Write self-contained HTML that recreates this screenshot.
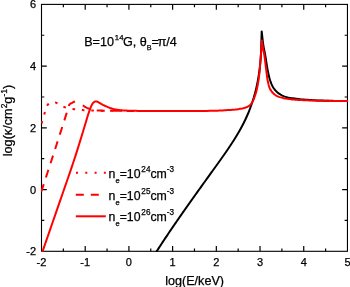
<!DOCTYPE html>
<html><head><meta charset="utf-8"><style>
html,body{margin:0;padding:0;background:#fff;}
svg{display:block;}
text{font-family:"Liberation Sans",Arial,sans-serif;fill:#000;stroke:#000;stroke-width:0.25px;}
</style></head><body>
<svg width="350" height="287" viewBox="0 0 350 287">
<rect width="350" height="287" fill="#fff"/>
<defs><clipPath id="c"><rect x="40.9" y="3.8000000000000003" width="307.15" height="248.1"/></clipPath></defs>
<path d="M63.35,251.30 V248.50 M63.35,4.40 V7.20 M85.21,251.30 V246.00 M85.21,4.40 V9.70 M107.06,251.30 V248.50 M107.06,4.40 V7.20 M128.91,251.30 V246.00 M128.91,4.40 V9.70 M150.77,251.30 V248.50 M150.77,4.40 V7.20 M172.62,251.30 V246.00 M172.62,4.40 V9.70 M194.47,251.30 V248.50 M194.47,4.40 V7.20 M216.33,251.30 V246.00 M216.33,4.40 V9.70 M238.18,251.30 V248.50 M238.18,4.40 V7.20 M260.04,251.30 V246.00 M260.04,4.40 V9.70 M281.89,251.30 V248.50 M281.89,4.40 V7.20 M303.74,251.30 V246.00 M303.74,4.40 V9.70 M325.60,251.30 V248.50 M325.60,4.40 V7.20 M41.50,220.44 H44.30 M347.45,220.44 H344.65 M41.50,189.58 H46.80 M347.45,189.58 H342.15 M41.50,158.71 H44.30 M347.45,158.71 H344.65 M41.50,127.85 H46.80 M347.45,127.85 H342.15 M41.50,96.99 H44.30 M347.45,96.99 H344.65 M41.50,66.12 H46.80 M347.45,66.12 H342.15 M41.50,35.26 H44.30 M347.45,35.26 H344.65" stroke="#000" stroke-width="1.2" fill="none"/>
<rect x="41.5" y="4.4" width="305.95" height="246.90" fill="none" stroke="#000" stroke-width="1.1"/>
<g clip-path="url(#c)" fill="none" stroke-linejoin="round">
<path d="M155.61,253.00 L156.66,251.38 L157.71,249.77 L158.75,248.16 L159.79,246.55 L160.84,244.94 L161.90,243.31 L162.98,241.67 L164.08,240.00 L165.29,238.17 L166.53,236.32 L167.79,234.45 L169.06,232.56 L170.34,230.66 L171.63,228.77 L172.91,226.88 L174.20,225.00 L175.49,223.12 L176.78,221.24 L178.08,219.37 L179.38,217.49 L180.68,215.62 L181.99,213.74 L183.30,211.87 L184.61,210.00 L185.93,208.12 L187.25,206.25 L188.58,204.37 L189.90,202.49 L191.23,200.62 L192.57,198.75 L193.90,196.87 L195.23,195.00 L196.59,193.10 L197.96,191.18 L199.35,189.24 L200.74,187.31 L202.11,185.40 L203.45,183.54 L204.74,181.73 L205.99,180.00 L206.96,178.65 L207.89,177.36 L208.79,176.10 L209.68,174.87 L210.55,173.66 L211.42,172.45 L212.30,171.24 L213.19,170.00 L214.09,168.75 L214.99,167.50 L215.89,166.25 L216.79,165.00 L217.69,163.75 L218.58,162.50 L219.48,161.25 L220.37,160.00 L221.25,158.75 L222.13,157.51 L223.01,156.26 L223.89,155.01 L224.77,153.76 L225.64,152.51 L226.50,151.25 L227.36,150.00 L228.20,148.76 L229.04,147.51 L229.88,146.26 L230.71,145.01 L231.54,143.76 L232.35,142.51 L233.16,141.26 L233.96,140.00 L234.74,138.76 L235.51,137.51 L236.28,136.27 L237.04,135.02 L237.78,133.77 L238.52,132.52 L239.25,131.26 L239.96,130.00 L240.65,128.76 L241.33,127.52 L241.99,126.27 L242.65,125.02 L243.30,123.77 L243.93,122.52 L244.55,121.26 L245.16,120.00 L245.74,118.76 L246.31,117.51 L246.87,116.27 L247.42,115.02 L247.96,113.77 L248.48,112.51 L248.99,111.26 L249.49,110.00 L249.97,108.76 L250.44,107.51 L250.90,106.26 L251.35,105.02 L251.78,103.76 L252.20,102.51 L252.62,101.26 L253.02,100.00 L253.41,98.76 L253.78,97.51 L254.15,96.26 L254.50,95.01 L254.85,93.76 L255.18,92.51 L255.51,91.25 L255.82,90.00 L256.12,88.75 L256.41,87.51 L256.70,86.26 L256.97,85.01 L257.23,83.76 L257.48,82.51 L257.73,81.25 L257.96,80.00 L258.19,78.75 L258.40,77.50 L258.61,76.26 L258.81,75.01 L259.00,73.75 L259.18,72.50 L259.35,71.25 L259.52,70.00 L259.68,68.75 L259.82,67.50 L259.97,66.25 L260.10,65.00 L260.22,63.75 L260.34,62.50 L260.45,61.25 L260.56,60.00 L260.66,58.74 L260.75,57.48 L260.83,56.20 L260.91,54.93 L260.98,53.67 L261.05,52.42 L261.11,51.20 L261.16,50.00 L261.20,48.97 L261.23,47.96 L261.26,46.98 L261.28,46.01 L261.30,45.04 L261.32,44.06 L261.34,43.05 L261.37,42.00 L261.41,40.75 L261.45,39.45 L261.49,38.13 L261.53,36.79 L261.57,35.44 L261.62,34.08 L261.66,32.74 L261.70,31.40 L261.90,33.11 L262.08,34.85 L262.27,36.59 L262.46,38.33 L262.65,40.06 L262.85,41.75 L263.07,43.40 L263.30,45.00 L263.51,46.31 L263.74,47.56 L263.97,48.77 L264.21,49.96 L264.45,51.15 L264.70,52.38 L264.95,53.65 L265.20,55.00 L265.51,56.82 L265.82,58.75 L266.13,60.77 L266.45,62.84 L266.77,64.90 L267.10,66.93 L267.44,68.87 L267.80,70.70 L268.09,72.12 L268.39,73.51 L268.68,74.85 L268.98,76.17 L269.30,77.45 L269.63,78.70 L270.00,79.91 L270.40,81.10 L270.77,82.11 L271.15,83.11 L271.54,84.08 L271.95,85.02 L272.39,85.94 L272.85,86.83 L273.36,87.68 L273.90,88.50 L274.45,89.25 L275.03,89.97 L275.65,90.67 L276.29,91.33 L276.95,91.97 L277.64,92.58 L278.36,93.16 L279.10,93.70 L279.88,94.22 L280.67,94.70 L281.48,95.15 L282.32,95.57 L283.19,95.96 L284.11,96.32 L285.08,96.67 L286.10,97.00 L287.59,97.41 L289.20,97.76 L290.91,98.06 L292.69,98.33 L294.52,98.57 L296.36,98.79 L298.20,99.00 L300.00,99.20 L301.84,99.40 L303.70,99.57 L305.58,99.73 L307.46,99.86 L309.35,99.98 L311.23,100.10 L313.12,100.20 L315.00,100.30 L316.86,100.39 L318.71,100.47 L320.55,100.54 L322.39,100.61 L324.24,100.66 L326.12,100.71 L328.04,100.76 L330.00,100.80 L332.27,100.84 L334.59,100.88 L336.96,100.90 L339.36,100.92 L341.78,100.94 L344.20,100.96 L346.61,100.98 L349.00,101.00" stroke="#000" stroke-width="2"/>
<path d="M41.60,123.60 L41.96,122.34 L42.33,121.07 L42.69,119.79 L43.05,118.52 L43.42,117.25 L43.78,116.01 L44.14,114.79 L44.50,113.60 L44.80,112.56 L45.09,111.51 L45.36,110.47 L45.64,109.44 L45.93,108.46 L46.25,107.53 L46.60,106.67 L47.00,105.90 L47.32,105.38 L47.65,104.89 L48.00,104.43 L48.36,104.00 L48.74,103.62 L49.14,103.27 L49.56,102.96 L50.00,102.70 L50.45,102.49 L50.92,102.33 L51.41,102.20 L51.91,102.11 L52.43,102.05 L52.95,102.04 L53.48,102.05 L54.00,102.10 L54.61,102.22 L55.24,102.40 L55.87,102.65 L56.51,102.93 L57.15,103.25 L57.78,103.57 L58.40,103.90 L59.00,104.20 L59.55,104.49 L60.07,104.79 L60.59,105.11 L61.10,105.43 L61.61,105.75 L62.13,106.06 L62.65,106.34 L63.20,106.60 L63.77,106.84 L64.36,107.06 L64.95,107.26 L65.56,107.45 L66.16,107.62 L66.78,107.79 L67.39,107.95 L68.00,108.10 L68.61,108.24 L69.20,108.37 L69.79,108.49 L70.39,108.59 L71.00,108.70 L71.63,108.79 L72.30,108.90 L73.00,109.00 L74.02,109.15 L75.11,109.30 L76.25,109.45 L77.43,109.60 L78.64,109.74 L79.88,109.87 L81.14,109.99 L82.40,110.10 L83.88,110.20 L85.39,110.29 L86.94,110.36 L88.51,110.42 L90.11,110.47 L91.73,110.52 L93.36,110.56 L95.00,110.60 L96.82,110.64 L98.70,110.68 L100.60,110.71 L102.52,110.73 L104.44,110.75 L106.34,110.77 L108.20,110.78 L110.00,110.80 L111.56,110.81 L113.09,110.82 L114.60,110.83 L116.08,110.83 L117.56,110.84 L119.03,110.84 L120.51,110.84 L122.00,110.85 L123.50,110.86 L125.00,110.86 L126.50,110.87 L128.00,110.88 L129.50,110.88 L131.00,110.89 L132.50,110.89 L134.00,110.90" stroke="#ff0000" stroke-width="2" stroke-dasharray="2.6 6.8"/>
<path d="M41.00,192.60 L42.75,187.21 L44.51,181.81 L46.27,176.40 L48.03,171.00 L49.78,165.60 L51.53,160.22 L53.27,154.85 L55.00,149.50 L56.68,144.28 L58.35,139.07 L60.02,133.88 L61.68,128.70 L63.33,123.53 L64.98,118.36 L66.64,113.18 L68.30,108.00 L68.42,107.57 L68.53,107.12 L68.63,106.66 L68.73,106.21 L68.85,105.77 L68.99,105.35 L69.17,104.96 L69.40,104.60 L69.69,104.28 L70.03,103.99 L70.40,103.72 L70.81,103.48 L71.23,103.25 L71.66,103.03 L72.09,102.82 L72.50,102.60 L72.92,102.38 L73.35,102.16 L73.80,101.94 L74.25,101.73 L74.69,101.53 L75.12,101.36 L75.52,101.22 L75.90,101.10 L76.14,101.04 L76.36,101.00 L76.57,100.98 L76.78,100.96 L76.98,100.95 L77.19,100.93 L77.39,100.92 L77.60,100.90" stroke="#ff0000" stroke-width="2" stroke-dasharray="8 7" stroke-dashoffset="-0.9"/>
<path d="M77.60,100.90 L77.84,101.03 L78.07,101.15 L78.30,101.27 L78.53,101.39 L78.76,101.52 L79.00,101.66 L79.25,101.82 L79.50,102.00 L79.89,102.32 L80.29,102.70 L80.71,103.13 L81.13,103.58 L81.57,104.03 L82.01,104.48 L82.45,104.91 L82.90,105.30 L83.33,105.64 L83.77,105.97 L84.21,106.30 L84.65,106.61 L85.11,106.90 L85.56,107.19 L86.03,107.45 L86.50,107.70 L86.96,107.92 L87.43,108.12 L87.90,108.31 L88.38,108.48 L88.86,108.64 L89.36,108.80 L89.87,108.95 L90.40,109.10 L91.03,109.28 L91.66,109.45 L92.30,109.62 L92.97,109.78 L93.66,109.93 L94.39,110.06 L95.17,110.19 L96.00,110.30 L97.45,110.44 L99.08,110.53 L100.83,110.59 L102.67,110.63 L104.55,110.65 L106.43,110.66 L108.26,110.67 L110.00,110.70 L111.54,110.73 L113.06,110.75 L114.57,110.78 L116.06,110.79 L117.54,110.81 L119.02,110.82 L120.51,110.84 L122.00,110.85 L123.50,110.86 L125.00,110.87 L126.50,110.88 L128.00,110.88 L129.50,110.89 L131.00,110.89 L132.50,110.89 L134.00,110.90" stroke="#ff0000" stroke-width="2" stroke-dasharray="8 7" stroke-dashoffset="8.1"/>
<path d="M41.60,254.20 L42.86,250.55 L44.12,246.91 L45.38,243.27 L46.64,239.62 L47.90,235.98 L49.16,232.33 L50.43,228.67 L51.70,225.00 L52.99,221.29 L54.27,217.58 L55.56,213.88 L56.85,210.17 L58.14,206.44 L59.45,202.67 L60.77,198.86 L62.10,195.00 L63.57,190.74 L65.09,186.38 L66.62,181.96 L68.17,177.51 L69.70,173.06 L71.21,168.63 L72.68,164.27 L74.10,160.00 L75.38,156.08 L76.65,152.11 L77.90,148.14 L79.12,144.22 L80.30,140.40 L81.44,136.73 L82.51,133.24 L83.50,130.00 L84.16,127.83 L84.79,125.71 L85.39,123.67 L85.97,121.71 L86.51,119.85 L87.04,118.10 L87.53,116.48 L88.00,115.00 L88.27,114.19 L88.52,113.44 L88.76,112.74 L88.99,112.08 L89.21,111.45 L89.44,110.83 L89.67,110.22 L89.90,109.60 L90.11,109.04 L90.32,108.48 L90.52,107.93 L90.73,107.39 L90.94,106.87 L91.16,106.36 L91.37,105.87 L91.60,105.40 L91.79,105.03 L91.98,104.66 L92.17,104.31 L92.36,103.97 L92.56,103.64 L92.76,103.34 L92.98,103.05 L93.20,102.80 L93.39,102.62 L93.58,102.45 L93.77,102.29 L93.97,102.15 L94.18,102.02 L94.38,101.90 L94.59,101.79 L94.80,101.70 L94.99,101.62 L95.19,101.56 L95.39,101.50 L95.59,101.45 L95.79,101.41 L95.99,101.39 L96.20,101.39 L96.40,101.40 L96.63,101.44 L96.86,101.50 L97.08,101.59 L97.31,101.69 L97.55,101.81 L97.79,101.93 L98.04,102.07 L98.30,102.20 L98.68,102.40 L99.07,102.63 L99.47,102.87 L99.89,103.13 L100.33,103.40 L100.77,103.67 L101.23,103.94 L101.70,104.20 L102.30,104.51 L102.93,104.84 L103.58,105.16 L104.25,105.49 L104.93,105.81 L105.61,106.12 L106.26,106.42 L106.90,106.70 L107.44,106.93 L107.97,107.15 L108.48,107.36 L109.00,107.56 L109.51,107.75 L110.03,107.94 L110.56,108.12 L111.10,108.30 L111.68,108.49 L112.27,108.67 L112.86,108.84 L113.46,109.01 L114.08,109.17 L114.70,109.32 L115.34,109.47 L116.00,109.60 L116.78,109.74 L117.57,109.86 L118.38,109.97 L119.20,110.07 L120.06,110.16 L120.96,110.24 L121.90,110.32 L122.90,110.40 L124.49,110.50 L126.20,110.59 L128.01,110.66 L129.91,110.72 L131.87,110.78 L133.89,110.82 L135.94,110.86 L138.00,110.90 L140.53,110.94 L143.13,110.97 L145.80,110.98 L148.53,110.99 L151.32,110.99 L154.16,110.99 L157.06,111.00 L160.00,111.00 L163.56,111.01 L167.28,111.01 L171.11,111.02 L175.00,111.02 L178.89,111.02 L182.72,111.02 L186.44,111.01 L190.00,111.00 L192.95,110.99 L195.86,110.98 L198.72,110.97 L201.52,110.95 L204.26,110.93 L206.93,110.90 L209.51,110.86 L212.00,110.80 L213.91,110.75 L215.75,110.69 L217.53,110.63 L219.27,110.56 L220.97,110.48 L222.65,110.39 L224.32,110.30 L226.00,110.20 L227.56,110.10 L229.13,110.01 L230.69,109.91 L232.23,109.80 L233.74,109.68 L235.22,109.55 L236.64,109.39 L238.00,109.20 L239.07,109.04 L240.11,108.86 L241.14,108.68 L242.13,108.49 L243.09,108.28 L244.01,108.05 L244.88,107.79 L245.70,107.50 L246.30,107.26 L246.87,107.02 L247.41,106.76 L247.93,106.49 L248.43,106.20 L248.90,105.89 L249.36,105.56 L249.80,105.20 L250.21,104.82 L250.60,104.42 L250.97,104.00 L251.32,103.56 L251.66,103.09 L251.98,102.61 L252.29,102.12 L252.60,101.60 L252.94,100.98 L253.26,100.32 L253.56,99.64 L253.84,98.93 L254.12,98.21 L254.38,97.47 L254.64,96.74 L254.90,96.00 L255.17,95.22 L255.43,94.43 L255.68,93.63 L255.92,92.82 L256.15,92.00 L256.38,91.18 L256.59,90.34 L256.80,89.50 L257.01,88.59 L257.20,87.67 L257.39,86.74 L257.56,85.81 L257.73,84.86 L257.89,83.91 L258.04,82.95 L258.20,82.00 L258.36,81.02 L258.51,80.03 L258.65,79.04 L258.79,78.05 L258.93,77.05 L259.06,76.04 L259.18,75.03 L259.30,74.00 L259.42,72.90 L259.53,71.80 L259.63,70.69 L259.73,69.56 L259.82,68.43 L259.91,67.30 L260.00,66.15 L260.10,65.00 L260.20,63.77 L260.31,62.51 L260.41,61.24 L260.51,59.96 L260.61,58.69 L260.71,57.43 L260.81,56.20 L260.90,55.00 L260.98,53.95 L261.06,52.92 L261.15,51.90 L261.22,50.90 L261.30,49.91 L261.37,48.93 L261.44,47.96 L261.50,47.00 L261.55,46.14 L261.59,45.31 L261.63,44.48 L261.66,43.66 L261.70,42.85 L261.73,42.04 L261.76,41.22 L261.80,40.40 L261.95,41.35 L262.10,42.31 L262.24,43.26 L262.39,44.22 L262.54,45.17 L262.69,46.12 L262.84,47.07 L263.00,48.00 L263.16,48.87 L263.32,49.71 L263.48,50.54 L263.64,51.37 L263.81,52.21 L263.97,53.09 L264.14,54.01 L264.30,55.00 L264.53,56.52 L264.75,58.16 L264.98,59.90 L265.20,61.71 L265.43,63.55 L265.65,65.38 L265.87,67.17 L266.10,68.90 L266.30,70.48 L266.49,72.06 L266.67,73.64 L266.86,75.20 L267.05,76.73 L267.27,78.24 L267.52,79.69 L267.80,81.10 L268.05,82.26 L268.30,83.40 L268.56,84.52 L268.84,85.61 L269.15,86.67 L269.50,87.69 L269.92,88.67 L270.40,89.60 L270.92,90.44 L271.49,91.25 L272.10,92.03 L272.76,92.78 L273.46,93.48 L274.18,94.14 L274.93,94.75 L275.70,95.30 L276.47,95.77 L277.27,96.18 L278.11,96.54 L278.96,96.86 L279.84,97.14 L280.74,97.40 L281.66,97.65 L282.60,97.90 L283.70,98.17 L284.85,98.40 L286.03,98.61 L287.24,98.80 L288.45,98.97 L289.66,99.12 L290.85,99.27 L292.00,99.40 L293.01,99.51 L293.98,99.61 L294.93,99.69 L295.88,99.76 L296.84,99.82 L297.84,99.88 L298.88,99.94 L300.00,100.00 L301.65,100.09 L303.42,100.17 L305.28,100.26 L307.21,100.33 L309.17,100.41 L311.14,100.48 L313.09,100.54 L315.00,100.60 L316.86,100.65 L318.71,100.70 L320.55,100.74 L322.39,100.78 L324.24,100.82 L326.13,100.85 L328.04,100.87 L330.00,100.90 L332.27,100.92 L334.59,100.94 L336.96,100.96 L339.36,100.97 L341.78,100.97 L344.20,100.98 L346.61,100.99 L349.00,101.00" stroke="#ff0000" stroke-width="2"/>
</g>
<g font-size="11"><text x="41.50" y="266.1" text-anchor="middle">-2</text><text x="85.21" y="266.1" text-anchor="middle">-1</text><text x="128.91" y="266.1" text-anchor="middle">0</text><text x="172.62" y="266.1" text-anchor="middle">1</text><text x="216.33" y="266.1" text-anchor="middle">2</text><text x="260.04" y="266.1" text-anchor="middle">3</text><text x="303.74" y="266.1" text-anchor="middle">4</text><text x="347.45" y="266.1" text-anchor="middle">5</text><text x="36" y="255.30" text-anchor="end">-2</text><text x="36" y="193.58" text-anchor="end">0</text><text x="36" y="131.85" text-anchor="end">2</text><text x="36" y="70.12" text-anchor="end">4</text><text x="36" y="8.40" text-anchor="end">6</text></g>
<text x="194.6" y="284.8" font-size="12.6" text-anchor="middle">log(E/keV)</text>
<text transform="translate(12.2,156.3) rotate(-90)" font-size="12.7">log(κ/cm<tspan font-size="8.5" dy="-5.5">2</tspan><tspan dy="5.5">g</tspan><tspan font-size="8.5" dy="-5.5">-1</tspan><tspan dy="5.5">)</tspan></text>
<text x="84.2" y="45.9" font-size="12.6">B=10<tspan font-size="7.8" dx="0.9" dy="-5.6">14</tspan><tspan dx="-0.6" dy="5.6">G, θ</tspan><tspan font-size="7.2" dy="3.8">B</tspan><tspan dy="-3.8">=</tspan><tspan dx="-1.2">π</tspan><tspan dx="-0.2">/4</tspan></text>
<g fill="none" stroke="#ff0000" stroke-width="2">
<path d="M75.8,172.7 H105.8" stroke-dasharray="2 7.3" stroke-dashoffset="-0.2"/>
<path d="M75.8,194.8 H105.8" stroke-dasharray="8 7"/>
<path d="M75.8,216.3 H105.8"/>
</g>
<g font-size="12.3">
<text x="108.6" y="177.5">n<tspan font-size="7.6" dy="5.3">e</tspan><tspan dy="-5.3">=10</tspan><tspan font-size="8.2" dx="0.8" dy="-6">24</tspan><tspan dy="6">cm</tspan><tspan font-size="8.2" dy="-6">-3</tspan></text>
<text x="108.6" y="199.6">n<tspan font-size="7.6" dy="5.3">e</tspan><tspan dy="-5.3">=10</tspan><tspan font-size="8.2" dx="0.8" dy="-6">25</tspan><tspan dy="6">cm</tspan><tspan font-size="8.2" dy="-6">-3</tspan></text>
<text x="108.6" y="221.1">n<tspan font-size="7.6" dy="5.3">e</tspan><tspan dy="-5.3">=10</tspan><tspan font-size="8.2" dx="0.8" dy="-6">26</tspan><tspan dy="6">cm</tspan><tspan font-size="8.2" dy="-6">-3</tspan></text>
</g>
</svg>
</body></html>
